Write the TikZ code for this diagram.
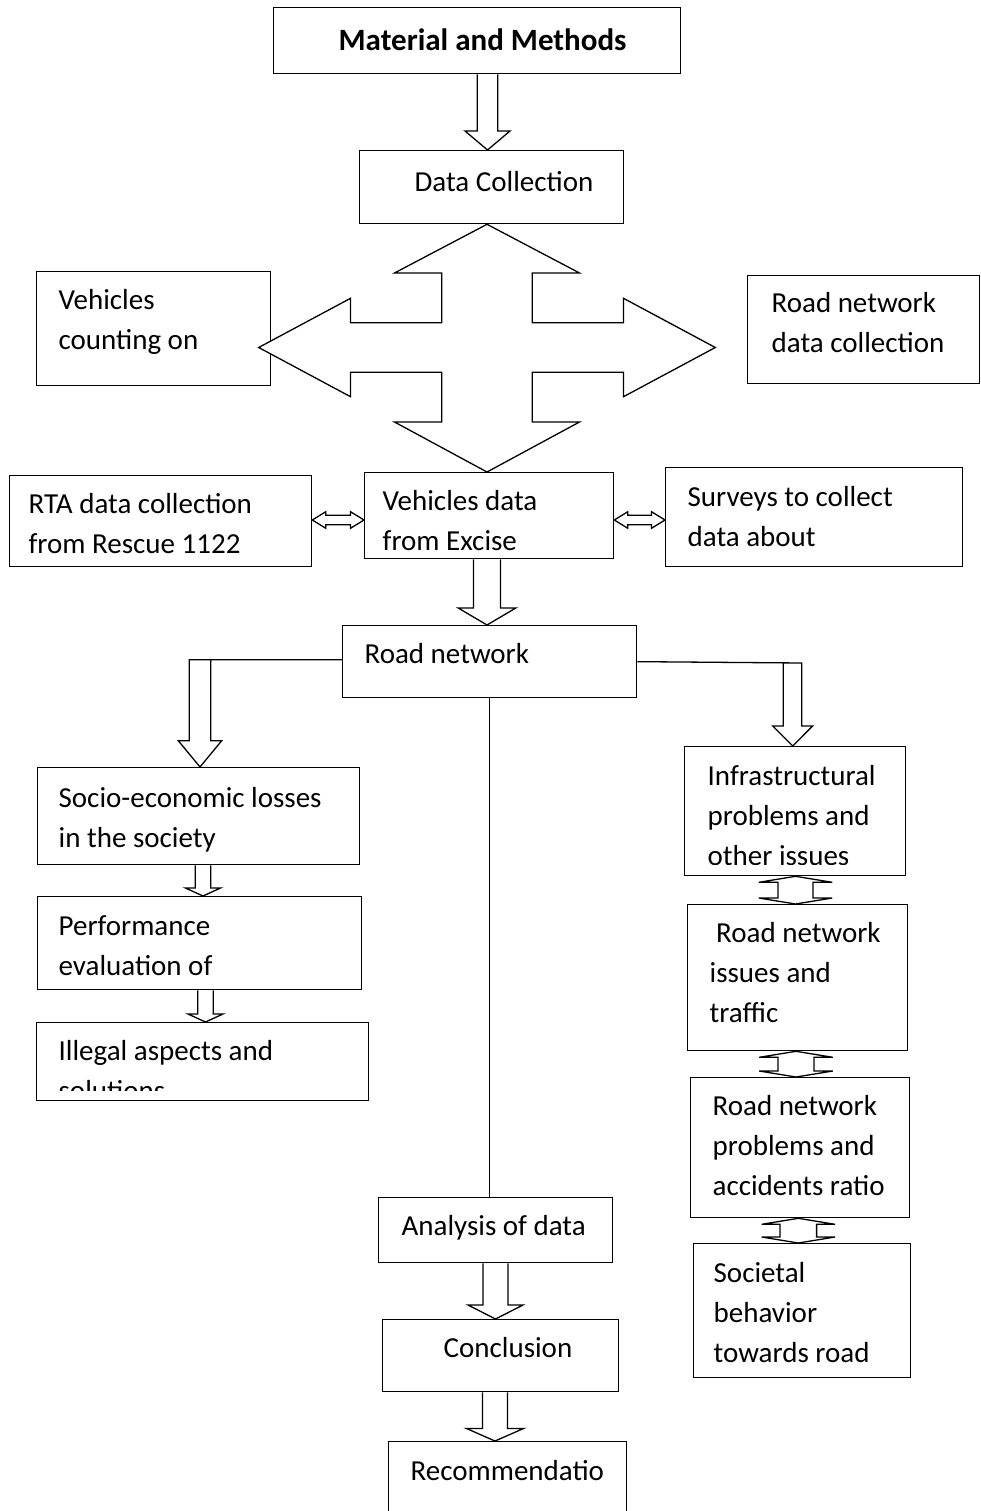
\documentclass[tikz,border=0pt]{standalone}
\usepackage{fontspec}
\setmainfont{Carlito}
\usetikzlibrary{positioning, calc}

\newcommand{\tbfont}{\fontsize{29}{40}\selectfont}
% text of a box: width, left pad, lines
\newcommand{\boxtext}[3]{\begin{minipage}[t]{#1pt}\setlength{\parindent}{0pt}\setlength{\leftskip}{#2pt}#3\end{minipage}}

% hollow arrow down: x, from, to, half shaft, half head, head length
\newcommand{\blockdown}[6]{%
  \draw[block] (#1-#4,0 |- #2.south) -- ($(#1-#4,0 |- #3.north)+(0,-#6)$) -- ++(#4-#5,0)
    -- (#1,0 |- #3.north) -- ($(#1+#5,0 |- #3.north)+(0,-#6)$) -- ++(#4-#5,0)
    -- (#1+#4,0 |- #2.south);}
% hollow arrow up and down: x, top, bottom, half shaft, half head, head length
\newcommand{\blockupdown}[6]{%
  \draw[block] (#1,0 |- #2.south) -- ++(#5,#6) -- ++(#4-#5,0)
    -- ($(#1+#4,0 |- #3.north)+(0,-#6)$) -- ++(#5-#4,0) -- (#1,0 |- #3.north)
    -- ++(-#5,-#6) -- ++(#5-#4,0) -- ($(#1-#4,0 |- #2.south)+(0,#6)$) -- ++(#4-#5,0) -- cycle;}
% hollow arrow left and right: y, left, right, half shaft, half head, head length
\newcommand{\blocklr}[6]{%
  \draw[block] (#2.east |- 0,#1) -- ++(#6,-#5) -- ++(0,#5-#4)
    -- ($(#3.west |- 0,#1-#4)+(-#6,0)$) -- ++(0,#4-#5) -- (#3.west |- 0,#1)
    -- ++(-#6,#5) -- ++(0,#4-#5) -- ($(#2.east |- 0,#1+#4)+(#6,0)$) -- ++(0,#5-#4) -- cycle;}

\begin{document}
\begin{tikzpicture}[x=1pt, y=-1pt,
    box/.style={draw, line width=1.3pt, inner sep=0pt, anchor=north west, font=\tbfont},
    block/.style={draw, line width=1.3pt}]
\useasboundingbox (0,0) rectangle (981,1511);

\node[box, text height=43pt, text depth=23pt, font=\fontsize{31}{40}\selectfont\bfseries] (0) at (273,7) {\boxtext{407}{65}{Material and Methods}};
\node[box, text height=41pt, text depth=32pt] (1) at (359,150) {\boxtext{264}{55}{Data Collection}};
\node[box, text height=38pt, text depth=76pt] (2) at (36,271) {\boxtext{234}{22}{Vehicles\\counting on}};
\node[box, text height=37pt, text depth=71pt] (3) at (747,275) {\boxtext{232}{24}{Road network\\data collection}};
\node[box, text height=38pt, text depth=53pt] (4) at (9,475) {\boxtext{302}{19}{RTA data collection\\from Rescue 1122}};
\node[box, minimum width=249pt, text height=38pt, text depth=48pt] (5) at (364,472) {};
\begin{scope}
  \clip (5.north west) rectangle ([yshift=8pt]5.south east);
  \node[box, draw=none, text height=38pt, text depth=48pt] (5t) at (364,472) {\boxtext{249}{18}{Vehicles data\\from Excise}};
\end{scope}
\node[box, text height=39pt, text depth=60pt] (6) at (665,467) {\boxtext{297}{22}{Surveys to collect\\data about}};
\node[box, text height=38pt, text depth=34pt] (7) at (342,625) {\boxtext{294}{22}{Road network}};

\node[box, text height=40pt, text depth=57pt] (8) at (37,767) {\boxtext{322}{21}{Socio-economic losses\\in the society}};
\node[box, text height=39pt, text depth=54pt] (9) at (37,896) {\boxtext{324}{21}{Performance\\evaluation of}};
\node[box, minimum width=332pt, text height=38pt, text depth=40pt] (10) at (36,1022) {};
\begin{scope}
  \clip (10.north west) rectangle ([yshift=11pt]10.south east);
  \node[box, draw=none, text height=38pt, text depth=40pt] (10t) at (36,1022) {\boxtext{332}{22}{Illegal aspects and\\solutions}};
\end{scope}

\node[box, minimum width=221pt, text height=39pt, text depth=90pt] (11) at (684,746) {};
\begin{scope}
  \clip (11.north west) rectangle ([yshift=12pt]11.south east);
  \node[box, draw=none, text height=39pt, text depth=90pt] (11t) at (684,746) {\boxtext{221}{23}{Infrastructural\\problems and\\other issues}};
\end{scope}
\node[box, text height=38pt, text depth=108pt] (12) at (687,904) {\boxtext{220}{22}{~Road network\\issues and\\traffic}};
\node[box, text height=38pt, text depth=102pt] (13) at (690,1077) {\boxtext{219}{22}{Road network\\problems and\\accidents ratio}};
\node[box, text height=39pt, text depth=95pt] (14) at (693,1243) {\boxtext{217}{20}{Societal\\behavior\\towards road}};

\node[box, text height=38pt, text depth=27pt] (15) at (378,1197) {\boxtext{234}{23}{Analysis of data}};
\node[box, text height=38pt, text depth=34pt] (16) at (382,1319) {\boxtext{236}{61}{Conclusion}};
\node[box, text height=39pt, text depth=50pt] (17) at (388,1441) {\boxtext{238}{22}{Recommendatio}};

% arrows
\blockdown{487.5}{0}{1}{10.2}{22.5}{19}

\coordinate (c) at (487,347.5);
\begin{scope}[shift={(c)}]
\draw[block, fill=white] (c |- 1.south) -- (92.5,-74.5) -- (45.3,-74.5) -- (45.3,-24.8)
  -- (136.5,-24.8) -- (136.5,-49.2) -- (228.3,0) -- (136.5,49.2) -- (136.5,24.8)
  -- (45.3,24.8) -- (45.3,74.5) -- (92.5,74.5) -- (c |- 5.north) -- (-92.5,74.5)
  -- (-45.3,74.5) -- (-45.3,24.8) -- (-136.5,24.8) -- (-136.5,49.2) -- (-228.3,0)
  -- (-136.5,-49.2) -- (-136.5,-24.8) -- (-45.3,-24.8) -- (-45.3,-74.5) -- (-92.5,-74.5) -- cycle;
\end{scope}

\blocklr{520}{4}{5}{4.7}{8.3}{13.5}
\blocklr{520}{5}{6}{4.7}{8.3}{13.5}
\blockdown{487}{5}{7}{13.5}{28.8}{17}

\coordinate (l) at ([yshift=2pt]7.west);
\draw[block] (l) -| (189.3,740.7) -- ++(-11,0) -- (200,0 |- 8.north) -- (221.7,740.7)
  -- ++(-11,0) -- (210.7,0 |- l);
\draw[block] (7.east) -- (801.8,663) -- (801.8,726) -- ++(10.8,0) -- (792.7,0 |- 11.north)
  -- (772.8,726) -- ++(10.4,0) -- (783.2,662.6);
\draw[block] (7.south) -- (7.south |- 15.north);

\blockdown{203}{8}{9}{7.8}{17.5}{8}
\blockdown{205.5}{9}{10}{7.8}{17.5}{8}
\blockdown{495.5}{15}{16}{12.5}{27.5}{14}
\blockdown{495}{16}{17}{12.5}{28.5}{12.5}

\blockupdown{795.5}{11}{12}{17.5}{36.7}{6}
\blockupdown{796}{12}{13}{18}{36.8}{6}
\blockupdown{798.3}{13}{14}{18.3}{36.7}{6}
\end{tikzpicture}
\end{document}
